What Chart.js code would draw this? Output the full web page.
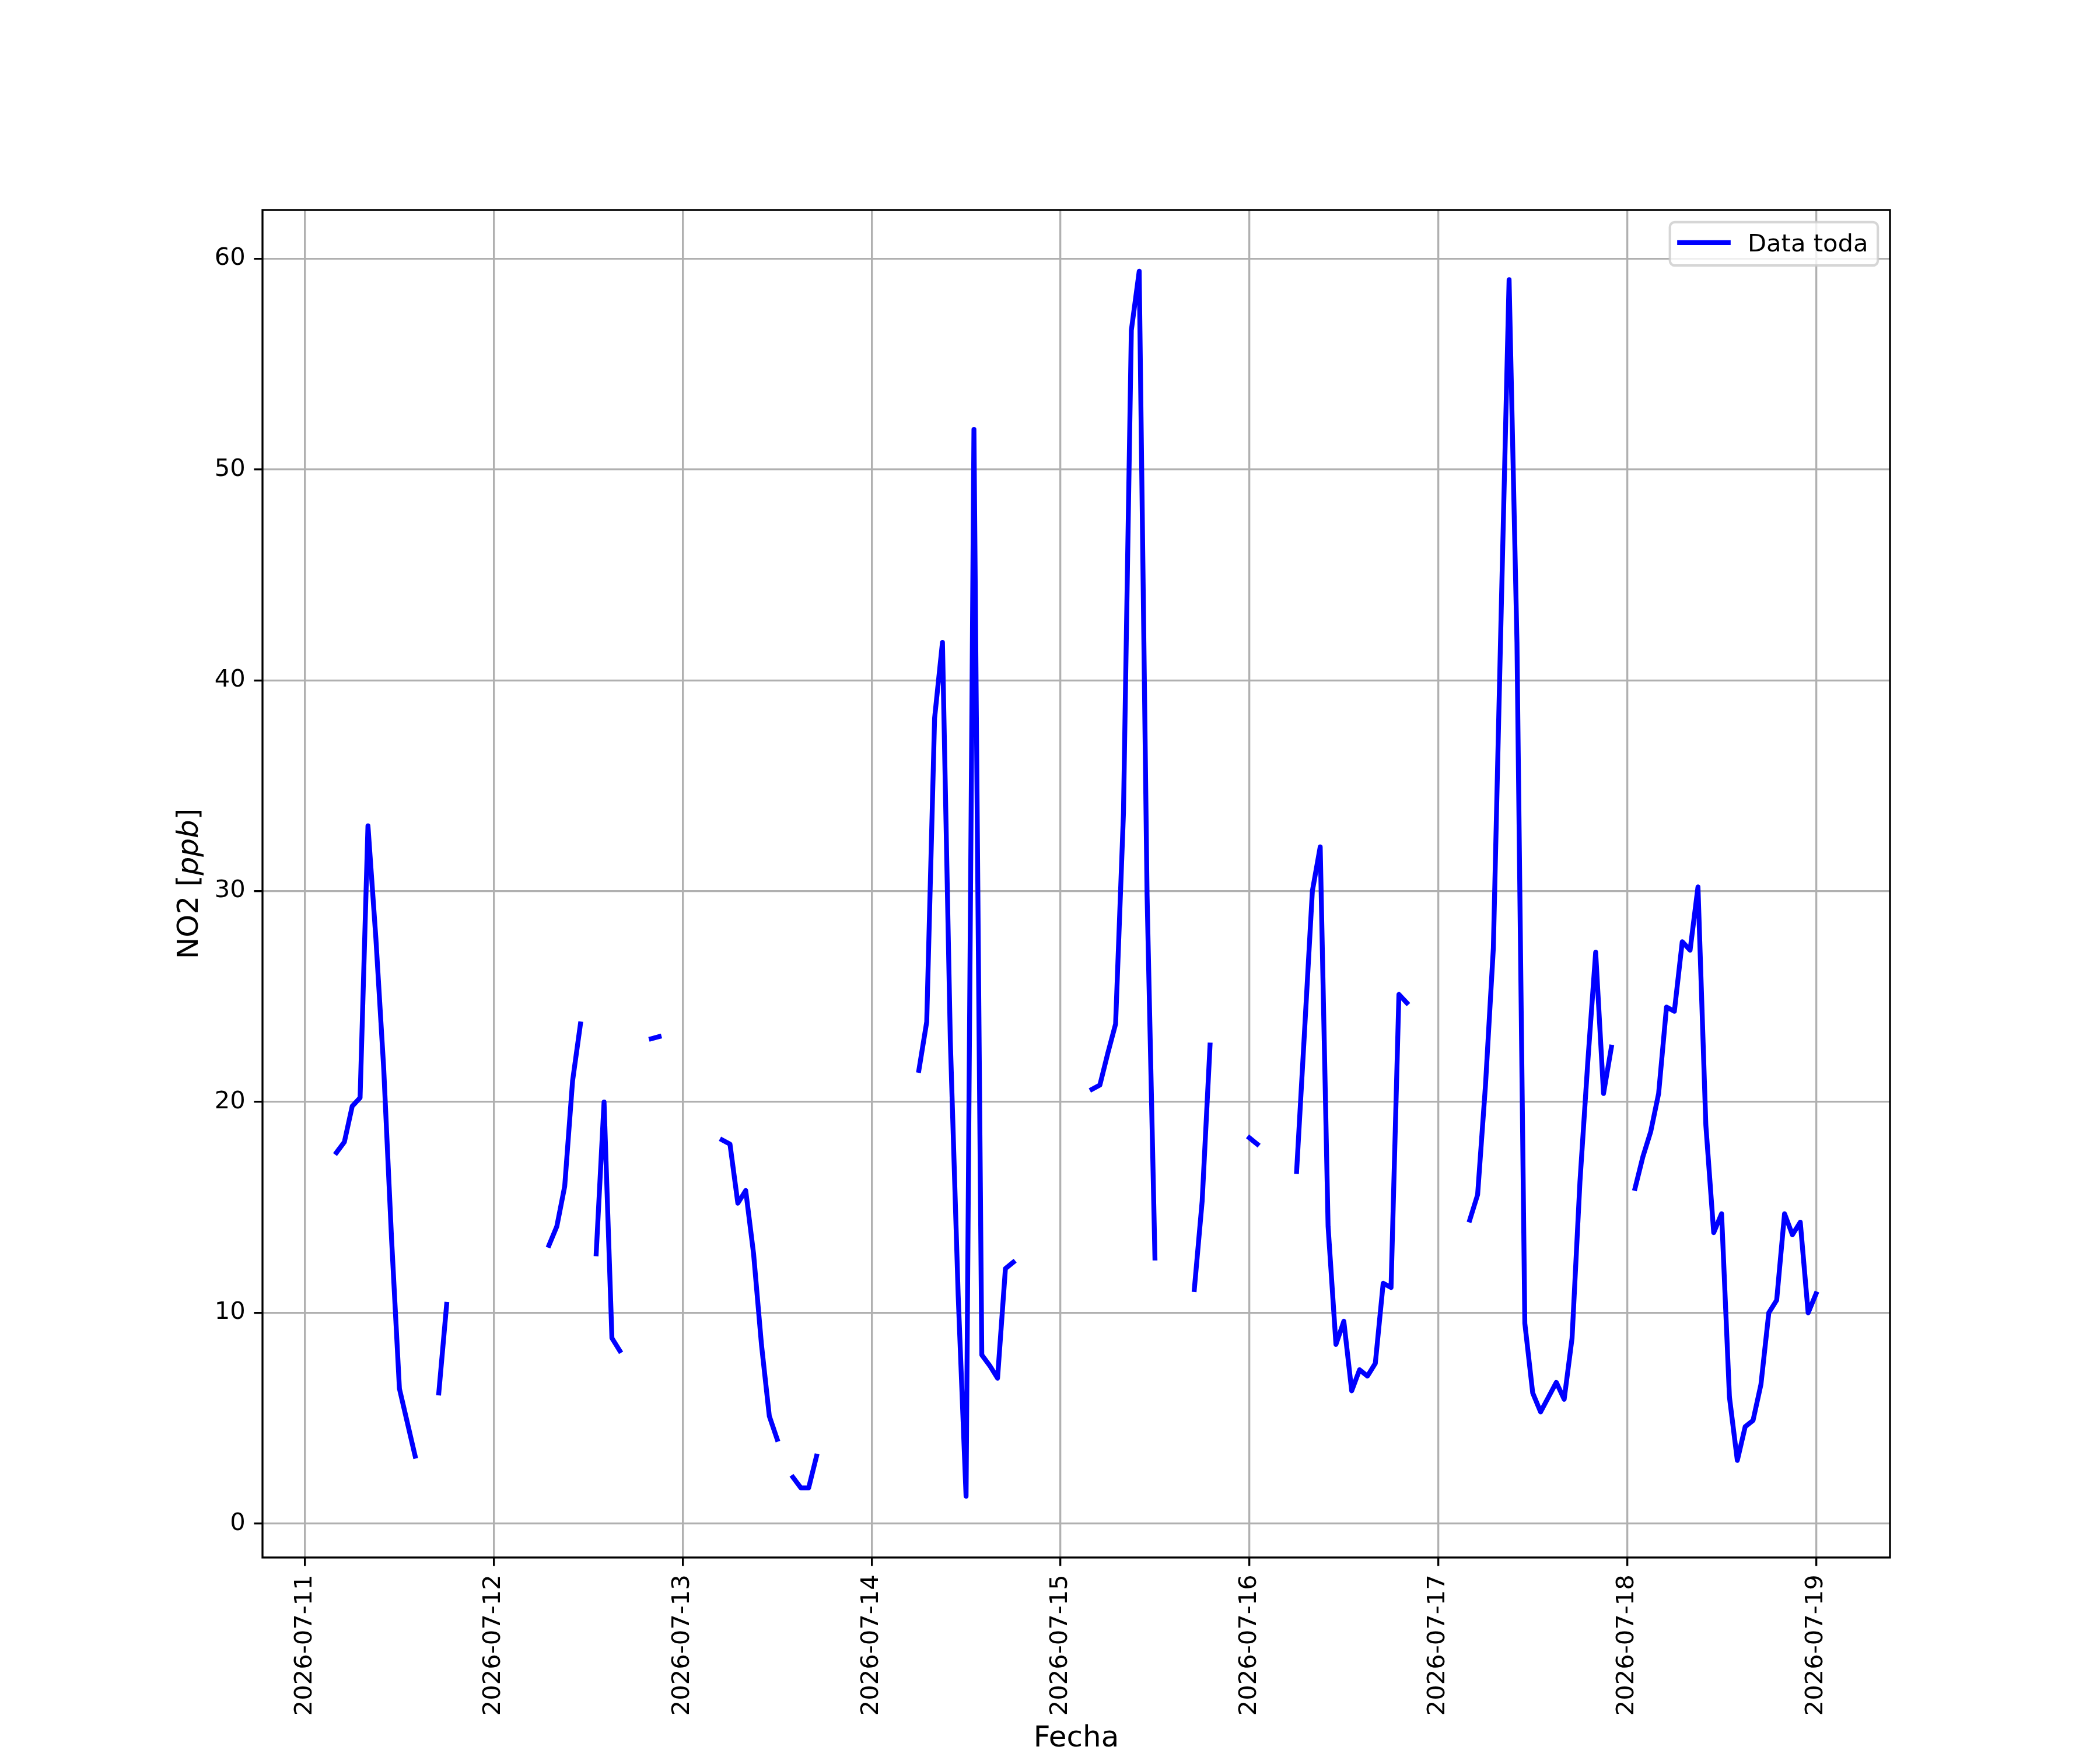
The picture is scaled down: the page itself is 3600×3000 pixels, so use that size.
<!DOCTYPE html>
<html>
<head>
<meta charset="utf-8">
<script src="https://cdn.jsdelivr.net/npm/chart.js@4.4.1/dist/chart.umd.min.js"></script>
<style>
html,body{margin:0;padding:0;background:#ffffff;}
canvas{display:block;}
</style>
</head>
<body>
<canvas id="chart" width="3600" height="3000" style="width:3600px;height:3000px"></canvas>
<script>
// ---- tick labels (one per day) ----
const dayLabels = ['2026-07-11','2026-07-12','2026-07-13','2026-07-14','2026-07-15','2026-07-16','2026-07-17','2026-07-18','2026-07-19'];

// ---- hourly NO2 values [ppb], hours 00..23 of each day (null = no data) ----
const no2_0711 = [null,null,null,null,17.6,18.1,19.8,20.2,33.1,27.8,21.6,13.5,6.4,4.8,3.2,null,null,6.2,10.4,null,null,null,null,null];
const no2_0712 = [null,null,null,null,null,null,null,13.2,14.1,16.0,21.0,23.7,null,12.8,20.0,8.8,8.2,null,null,null,23.0,23.1,null,null];
const no2_0713 = [null,null,null,null,null,18.2,18.0,15.2,15.8,12.8,8.5,5.1,4.0,null,2.2,1.7,1.7,3.2,null,null,null,null,null,null];
const no2_0714 = [null,null,null,null,null,null,21.5,23.8,38.2,41.8,22.9,10.8,1.3,51.9,8.0,7.5,6.9,12.1,12.4,null,null,null,null,null];
const no2_0715 = [null,null,null,null,20.6,20.8,22.3,23.7,33.7,56.6,59.4,29.8,12.6,null,null,null,null,11.1,15.3,22.7,null,null,null,null];
const no2_0716 = [18.3,18.0,null,null,null,null,16.7,23.3,30.0,32.1,14.1,8.5,9.6,6.3,7.3,7.0,7.6,11.4,11.2,25.1,24.7,null,null,null];
const no2_0717 = [null,null,null,null,14.4,15.6,20.8,27.3,43.3,59.0,41.8,9.5,6.2,5.3,6.0,6.7,5.9,8.8,16.2,21.9,27.1,20.4,22.6,null];
const no2_0718 = [null,15.9,17.4,18.6,20.4,24.5,24.3,27.6,27.2,30.2,18.9,13.8,14.7,6.0,3.0,4.6,4.9,6.6,10.0,10.6,14.7,13.7,14.3,10.0];
const no2_0719 = [10.9];

const seriesLabel = 'Data toda';
const xTitle = 'Fecha';
const yTitleParts = [['NO2 [', false], ['ppb', true], [']', false]];

// ---- build points (x = hours since first day 00:00) ----
const dayArrays = [no2_0711,no2_0712,no2_0713,no2_0714,no2_0715,no2_0716,no2_0717,no2_0718,no2_0719];
const points = [];
dayArrays.forEach((arr, d) => arr.forEach((v, h) => points.push({x: d * 24 + h, y: v})));

// matplotlib-like 5% auto margins
const finite = points.filter(p => p.y !== null);
const xs = finite.map(p => p.x), ys = finite.map(p => p.y);
const xLo = Math.min(...xs), xHi = Math.max(...xs);
const yLo = Math.min(...ys), yHi = Math.max(...ys);
const xMin = xLo - 0.05 * (xHi - xLo), xMax = xHi + 0.05 * (xHi - xLo);
const yMin = yLo - 0.05 * (yHi - yLo), yMax = yHi + 0.05 * (yHi - yLo);

const PT = 300 / 72;
const FAMILY = '"DejaVu Sans", "Liberation Sans", sans-serif';

const framePlugin = {
  id: 'frame',
  afterDatasetsDraw(chart) {
    const {ctx, chartArea: a} = chart;
    ctx.save();
    ctx.strokeStyle = '#000000';
    ctx.lineWidth = 0.8 * PT;
    ctx.lineJoin = 'miter';
    ctx.strokeRect(a.left, a.top, a.right - a.left, a.bottom - a.top);
    ctx.restore();
  }
};

const yLabelPlugin = {
  id: 'ylabel',
  afterDraw(chart) {
    const {ctx, chartArea: a} = chart;
    ctx.save();
    ctx.fillStyle = '#000000';
    ctx.textBaseline = 'alphabetic';
    ctx.textAlign = 'left';
    const size = 12 * PT;
    const fonts = yTitleParts.map(p => (p[1] ? 'italic ' : '') + size + 'px ' + FAMILY);
    let total = 0;
    const widths = yTitleParts.map((p, i) => { ctx.font = fonts[i]; const w = ctx.measureText(p[0]).width; total += w; return w; });
    ctx.translate(338.5, (a.top + a.bottom) / 2);
    ctx.rotate(-Math.PI / 2);
    let x = -total / 2;
    yTitleParts.forEach((p, i) => { ctx.font = fonts[i]; ctx.fillText(p[0], x, 0); x += widths[i]; });
    ctx.restore();
  }
};

const legendPlugin = {
  id: 'mplLegend',
  afterDraw(chart) {
    const {ctx, chartArea: a} = chart;
    const ds = chart.data.datasets[0];
    const fs = 10 * PT;
    ctx.save();
    ctx.font = fs + 'px ' + FAMILY;
    const tw = ctx.measureText(ds.label).width;
    const pad = 0.4 * fs, handle = 2.0 * fs, gap = 0.8 * fs;
    const w = pad + handle + gap + tw + pad;
    const h = 74.3;
    const right = a.right - 0.5 * fs;
    const top = a.top + 0.5 * fs;
    const left = right - w;
    const r = 0.2 * fs;
    ctx.beginPath();
    ctx.moveTo(left + r, top);
    ctx.lineTo(right - r, top);
    ctx.arcTo(right, top, right, top + r, r);
    ctx.lineTo(right, top + h - r);
    ctx.arcTo(right, top + h, right - r, top + h, r);
    ctx.lineTo(left + r, top + h);
    ctx.arcTo(left, top + h, left, top + h - r, r);
    ctx.lineTo(left, top + r);
    ctx.arcTo(left, top, left + r, top, r);
    ctx.closePath();
    ctx.fillStyle = 'rgba(255,255,255,0.8)';
    ctx.fill();
    ctx.strokeStyle = 'rgba(204,204,204,0.8)';
    ctx.lineWidth = 1.0 * PT;
    ctx.stroke();
    // handle line
    ctx.beginPath();
    ctx.strokeStyle = ds.borderColor;
    ctx.lineWidth = ds.borderWidth;
    ctx.lineCap = 'square';
    const ly = top + 35;
    ctx.moveTo(left + pad, ly);
    ctx.lineTo(left + pad + handle, ly);
    ctx.stroke();
    // text
    ctx.fillStyle = '#000000';
    ctx.textBaseline = 'alphabetic';
    ctx.textAlign = 'left';
    ctx.fillText(ds.label, left + pad + handle + gap, top + 50.3);
    ctx.restore();
  }
};

const gridOpts = {
  color: '#b0b0b0',
  lineWidth: 0.8 * PT,
  tickColor: '#000000',
  tickWidth: 0.8 * PT,
  tickLength: 3.5 * PT,
  drawTicks: true,
  drawOnChartArea: true
};

new Chart(document.getElementById('chart').getContext('2d'), {
  type: 'line',
  data: {
    datasets: [{
      label: seriesLabel,
      data: points,
      borderColor: '#0000ff',
      backgroundColor: '#0000ff',
      borderWidth: 2 * PT,
      pointRadius: 0,
      pointHoverRadius: 0,
      tension: 0,
      spanGaps: false,
      fill: false,
      borderCapStyle: 'square',
      borderJoinStyle: 'round'
    }]
  },
  options: {
    responsive: false,
    animation: false,
    devicePixelRatio: 1,
    events: [],
    layout: { padding: { left: 0, right: 360, top: 360, bottom: 0 } },
    plugins: {
      legend: { display: false },
      tooltip: { enabled: false },
      title: { display: false }
    },
    scales: {
      x: {
        type: 'linear',
        position: 'bottom',
        min: xMin,
        max: xMax,
        grid: gridOpts,
        border: { display: false },
        ticks: {
          stepSize: 24,
          includeBounds: false,
          autoSkip: false,
          minRotation: 90,
          maxRotation: 90,
          padding: 3.5 * PT,
          color: '#000000',
          font: { family: FAMILY, size: 10 * PT },
          callback: (v) => dayLabels[Math.round(v / 24)]
        },
        title: {
          display: true,
          text: xTitle,
          color: '#000000',
          font: { family: FAMILY, size: 12 * PT },
          padding: { top: 0, bottom: -11 }
        },
        afterFit: (s) => { s.height = 330; }
      },
      y: {
        type: 'linear',
        position: 'left',
        min: yMin,
        max: yMax,
        grid: gridOpts,
        border: { display: false },
        ticks: {
          stepSize: 10,
          includeBounds: false,
          padding: 3.5 * PT,
          color: '#000000',
          font: { family: FAMILY, size: 10 * PT }
        },
        title: { display: false },
        afterFit: (s) => { s.width = 450; }
      }
    }
  },
  plugins: [framePlugin, yLabelPlugin, legendPlugin]
});
</script>
</body>
</html>
